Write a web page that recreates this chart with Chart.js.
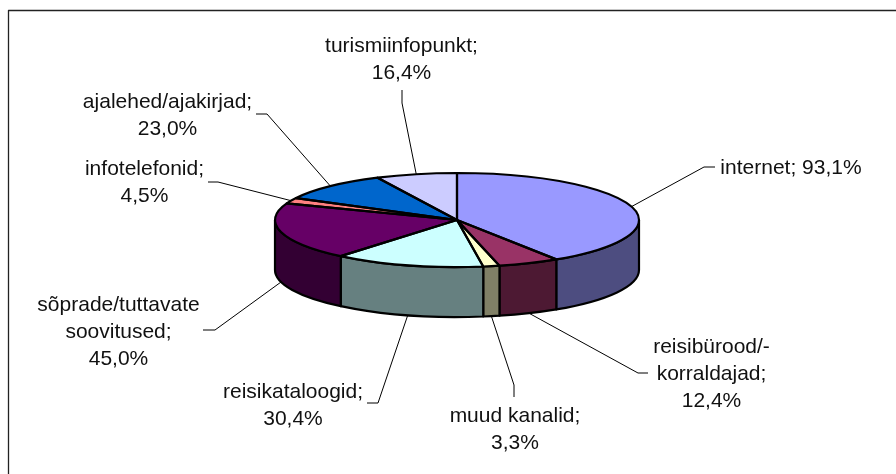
<!DOCTYPE html>
<html>
<head>
<meta charset="utf-8">
<style>
    html, body { margin: 0; padding: 0; background: #fff; }
    #wrap { position: relative; width: 896px; height: 474px; }
</style>
<script src="https://cdn.jsdelivr.net/npm/chart.js@4/dist/chart.umd.min.js"></script>
</head>
<body>
<div id="wrap"><canvas id="myChart" width="896" height="474"></canvas></div>
<script>
(function(){

    var categories = ['internet', 'reisibürood/-korraldajad', 'muud kanalid', 'reisikataloogid',
        'sõprade/tuttavate soovitused', 'infotelefonid', 'ajalehed/ajakirjad', 'turismiinfopunkt'];
    var values = [93.1, 12.4, 3.3, 30.4, 45.0, 4.5, 23.0, 16.4];
    var topColors = ['#9999FF', '#993366', '#FFFFCC', '#CCFFFF', '#660066', '#FF8080', '#0066CC', '#CCCCFF'];
    var sideColors = ['#4D4D80', '#4D1933', '#808066', '#668080', '#330033', '#804040', '#003366', '#666680'];

    // label text lines, where they sit and how the leader gets there
    var labelLines = [
        ['internet; 93,1%'],
        ['reisibürood/-', 'korraldajad;', '12,4%'],
        ['muud kanalid;', '3,3%'],
        ['reisikataloogid;', '30,4%'],
        ['sõprade/tuttavate', 'soovitused;', '45,0%'],
        ['infotelefonid;', '4,5%'],
        ['ajalehed/ajakirjad;', '23,0%'],
        ['turismiinfopunkt;', '16,4%']
    ];
    var labelPos = [[791, 168], [711.5, 374], [515, 430], [293, 405.5], [118.5, 332], [144.5, 182.5], [167.5, 116], [401.5, 59.5]];
    var leaderEnds = [[[704, 167], [715, 167]], [[638, 373], [648, 373]], [[514, 385], [514, 397]],
        [[378, 403], [367, 403]], [[215, 330], [203, 330]], [[218, 182], [208, 182]],
        [[267, 114], [256, 114]], [[402, 103], [402, 90]]];

    var SQUASH = 47 / 182;
    var DEPTH = 50;
    var FONT = '21px "Liberation Sans", Arial, sans-serif';
    var LINE_H = 27;
    var OUTLINE = 2.2;

    function squashPt(c, a, r) {
        return [c.x + Math.cos(a) * r, c.y + Math.sin(a) * r * SQUASH];
    }

    // side wall of one slice between angles a0 and a1, only where it faces us
    function wallPath(ctx, c, a0, a1, r) {
        ctx.beginPath();
        ctx.ellipse(c.x, c.y, r, r * SQUASH, 0, a0, a1);
        ctx.ellipse(c.x, c.y + DEPTH, r, r * SQUASH, 0, a1, a0, true);
        ctx.closePath();
    }

    var pie3d = {
        id: 'pie3d',
        beforeDatasetsDraw: function (chart) {
            var ctx = chart.ctx;
            var arcs = chart.getDatasetMeta(0).data;
            var c = arcs[0];

            // walls first, they sit under the top face
            arcs.forEach(function (arc, i) {
                var a0 = Math.max(arc.startAngle, 0);
                var a1 = Math.min(arc.endAngle, Math.PI);
                if (a1 <= a0) return;
                wallPath(ctx, c, a0, a1, arc.outerRadius);
                ctx.fillStyle = sideColors[i];
                ctx.fill();
                ctx.lineWidth = OUTLINE;
                ctx.lineJoin = 'round';
                ctx.strokeStyle = '#000';
                ctx.stroke();
            });

            ctx.save();
            ctx.translate(c.x, c.y);
            ctx.scale(1, SQUASH);
            ctx.translate(-c.x, -c.y);
        },
        afterDatasetsDraw: function (chart) {
            var ctx = chart.ctx;
            ctx.restore();
            var arcs = chart.getDatasetMeta(0).data;
            var c = arcs[0];

            // outline has to be stroked out of the squash or it goes thin
            arcs.forEach(function (arc) {
                var p = squashPt(c, arc.startAngle, arc.outerRadius);
                ctx.beginPath();
                ctx.moveTo(c.x, c.y);
                ctx.lineTo(p[0], p[1]);
                ctx.ellipse(c.x, c.y, arc.outerRadius, arc.outerRadius * SQUASH, 0, arc.startAngle, arc.endAngle);
                ctx.closePath();
                ctx.lineWidth = OUTLINE;
                ctx.lineJoin = 'round';
                ctx.strokeStyle = '#000';
                ctx.stroke();
            });

            // leaders and labels
            ctx.font = FONT;
            ctx.textAlign = 'center';
            ctx.textBaseline = 'middle';
            arcs.forEach(function (arc, i) {
                var mid = (arc.startAngle + arc.endAngle) / 2;
                var p = squashPt(c, mid, arc.outerRadius);
                var norm = Math.atan2(Math.sin(mid), Math.cos(mid));
                if (norm > 0) p[1] += DEPTH;
                ctx.beginPath();
                ctx.moveTo(p[0], p[1]);
                leaderEnds[i].forEach(function (e) { ctx.lineTo(e[0], e[1]); });
                ctx.lineWidth = 1;
                ctx.strokeStyle = '#000';
                ctx.stroke();

                ctx.fillStyle = '#111';
                var lines = labelLines[i];
                var y0 = labelPos[i][1] - (lines.length - 1) * LINE_H / 2;
                lines.forEach(function (t, k) {
                    ctx.fillText(t, labelPos[i][0], y0 + k * LINE_H);
                });
            });

            // frame runs off the picture on the right and at the bottom
            ctx.strokeStyle = '#222';
            ctx.lineWidth = 1.3;
            ctx.beginPath();
            ctx.moveTo(8.5, 474);
            ctx.lineTo(8.5, 10.5);
            ctx.lineTo(896, 10.5);
            ctx.stroke();
        }
    };

    var obj = {
        type: 'pie',
        data: {
            labels: categories,
            datasets: [{
                data: values,
                backgroundColor: topColors,
                borderWidth: 0
            }]
        },
        options: {
            responsive: false,
            animation: false,
            layout: { padding: { left: 275, right: 257, top: 38, bottom: 72 } },
            plugins: { legend: { display: false }, tooltip: { enabled: false } }
        },
        plugins: [pie3d]
    };

    var pieChart = new Chart(document.getElementById('myChart').getContext('2d'), obj);

})();
</script>
</body>
</html>
